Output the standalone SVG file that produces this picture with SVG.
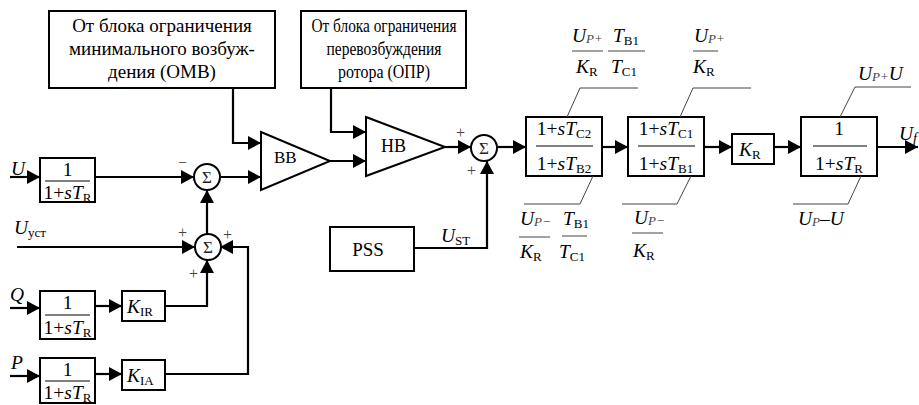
<svg xmlns="http://www.w3.org/2000/svg" width="919" height="405" viewBox="0 0 919 405">
<style>
.box{fill:#fff;stroke:#000;stroke-width:2}
.ln{fill:none;stroke:#000;stroke-width:2.2}
.bar{stroke:#000;stroke-width:1.2}
.gbar{stroke:#444;stroke-width:1}
.lead{fill:none;stroke:#444;stroke-width:1}
.sum{fill:#fff;stroke:#000;stroke-width:2}
text{font-family:'Liberation Serif','Times New Roman',Tinos,'DejaVu Serif',serif}
.t{font-size:18px;fill:#000}
.m{font-size:19.5px;fill:#000}
.i{font-style:italic}
.sub{font-size:13px;font-style:normal}
.subf{font-size:14px;font-style:italic}
.subi{font-size:13px;font-style:italic;fill:#444}
.sg{font-size:16px;fill:#444}
.sig{font-size:17px;fill:#222}
.s{font-size:19px;fill:#000;text-anchor:middle}
.s2{font-size:18.5px;fill:#000;text-anchor:middle}
.mid{text-anchor:middle}
</style>
<defs>
<marker id="ar" markerUnits="userSpaceOnUse" markerWidth="14" markerHeight="14" refX="13" refY="7" orient="auto">
<path d="M0,0 L13,7 L0,14 z" fill="#000"/>
</marker>
</defs>

<g id="connectors">
<path class="ln" d="M10,177 H40" marker-end="url(#ar)"/>
<path class="ln" d="M95,177 H194" marker-end="url(#ar)"/>
<path class="ln" d="M220,177 H261" marker-end="url(#ar)"/>
<path class="ln" d="M233,88 V143 H261" marker-end="url(#ar)"/>
<path class="ln" d="M330,161 H366" marker-end="url(#ar)"/>
<path class="ln" d="M331,88 V132 H366" marker-end="url(#ar)"/>
<path class="ln" d="M445,147 H471" marker-end="url(#ar)"/>
<path class="ln" d="M414,248 H487 V161" marker-end="url(#ar)"/>
<path class="ln" d="M497,147 H526" marker-end="url(#ar)"/>
<path class="ln" d="M602,147 H628" marker-end="url(#ar)"/>
<path class="ln" d="M704,147 H732" marker-end="url(#ar)"/>
<path class="ln" d="M774,147 H801" marker-end="url(#ar)"/>
<path class="ln" d="M877,147 H918" marker-end="url(#ar)"/>
<path class="ln" d="M17,247 H195" marker-end="url(#ar)"/>
<path class="ln" d="M207,234 V190" marker-end="url(#ar)"/>
<path class="ln" d="M165,306 H207 V260" marker-end="url(#ar)"/>
<path class="ln" d="M165,374 H248 V247 H220" marker-end="url(#ar)"/>
<path class="ln" d="M10,308 H40" marker-end="url(#ar)"/>
<path class="ln" d="M95,306 H122" marker-end="url(#ar)"/>
<path class="ln" d="M10,376 H40" marker-end="url(#ar)"/>
<path class="ln" d="M95,374 H122" marker-end="url(#ar)"/>
</g>

<g id="omv">
<rect class="box" x="49" y="11" width="226" height="77"/>
<text class="s" x="162" y="32">От блока ограничения</text>
<text class="s" x="162" y="55">минимального возбуж-</text>
<text class="s" x="162" y="78">дения (ОМВ)</text>
</g>
<g id="opr">
<rect class="box" x="301" y="11" width="165" height="77"/>
<text class="s2" x="384" y="32" textLength="145" lengthAdjust="spacingAndGlyphs">От блока ограничения</text>
<text class="s2" x="384" y="55" textLength="115" lengthAdjust="spacingAndGlyphs">перевозбуждения</text>
<text class="s2" x="384" y="78" textLength="92" lengthAdjust="spacingAndGlyphs">ротора (ОПР)</text>
</g>

<g id="tf-u">
<rect class="box" x="40" y="158" width="55" height="44"/>
<text class="m mid" x="67.5" y="176">1</text>
<line class="bar" x1="45" y1="181" x2="90" y2="181"/>
<text class="m mid" x="67.5" y="199">1+<tspan class="i">sT</tspan><tspan class="sub" dy="3">R</tspan></text>
<text class="m i" x="11" y="175">U</text>
</g>

<g id="sum1">
<circle class="sum" cx="207" cy="177" r="13"/>
<text class="sig mid" x="207" y="183">Σ</text>
<text class="sg" x="178" y="168">−</text>
</g>

<g id="sum2">
<circle class="sum" cx="208" cy="247" r="13"/>
<text class="sig mid" x="208" y="253">Σ</text>
<text class="sg" x="178" y="238">+</text>
<text class="sg" x="223" y="240">+</text>
<text class="sg" x="189" y="279">+</text>
<text class="m" x="14" y="234"><tspan class="i">U</tspan><tspan class="sub" dy="3">уст</tspan></text>
</g>

<g id="bb">
<path class="box" d="M261,132 L330,161 L261,190 z"/>
<text class="t" x="274" y="163" style="font-size:17px">ВВ</text>
</g>
<g id="hb">
<path class="box" d="M366,117 L445,147 L366,176 z"/>
<text class="t" x="381" y="152">НВ</text>
</g>

<g id="sum3">
<circle class="sum" cx="484" cy="148" r="13"/>
<text class="sig mid" x="484" y="154">Σ</text>
<text class="sg" x="456" y="138">+</text>
<text class="sg" x="467" y="176">+</text>
</g>

<g id="pss">
<rect class="box" x="330" y="227" width="84" height="44"/>
<text class="s" x="368" y="256">PSS</text>
<text class="m" x="441" y="242"><tspan class="i">U</tspan><tspan class="sub" dy="3">ST</tspan></text>
</g>

<g id="leadlag1">
<rect class="box" x="526" y="117" width="76" height="59"/>
<text class="m mid" x="564" y="135">1+<tspan class="i">sT</tspan><tspan class="sub" dy="3">C2</tspan></text>
<line class="bar" x1="536" y1="146" x2="593" y2="146"/>
<text class="m mid" x="564" y="170">1+<tspan class="i">sT</tspan><tspan class="sub" dy="3">B2</tspan></text>
<path class="lead" d="M567,117 L580,88 H638"/>
<text class="m i" x="572" y="42">U<tspan class="subi" dy="1">P+</tspan></text>
<line class="gbar" x1="572" y1="51" x2="603" y2="51"/>
<text class="m i" x="576" y="73">K<tspan class="sub" dy="3">R</tspan></text>
<text class="m i" x="613" y="42">T<tspan class="sub" dy="3">B1</tspan></text>
<line class="gbar" x1="608" y1="51" x2="645" y2="51"/>
<text class="m i" x="611" y="73">T<tspan class="sub" dy="3">C1</tspan></text>
<path class="lead" d="M593,176 L580,204 H524"/>
<text class="m i" x="520" y="225">U<tspan class="subi" dy="1">P−</tspan></text>
<line class="gbar" x1="519" y1="237" x2="550" y2="237"/>
<text class="m i" x="520" y="258">K<tspan class="sub" dy="3">R</tspan></text>
<text class="m i" x="563" y="225">T<tspan class="sub" dy="3">B1</tspan></text>
<line class="gbar" x1="562" y1="236" x2="587" y2="236"/>
<text class="m i" x="559" y="258">T<tspan class="sub" dy="3">C1</tspan></text>
</g>

<g id="leadlag2">
<rect class="box" x="628" y="117" width="76" height="59"/>
<text class="m mid" x="666" y="135">1+<tspan class="i">sT</tspan><tspan class="sub" dy="3">C1</tspan></text>
<line class="bar" x1="638" y1="146" x2="695" y2="146"/>
<text class="m mid" x="666" y="170">1+<tspan class="i">sT</tspan><tspan class="sub" dy="3">B1</tspan></text>
<path class="lead" d="M680,117 L693,88 H751"/>
<text class="m i" x="694" y="42">U<tspan class="subi" dy="1">P+</tspan></text>
<line class="gbar" x1="693" y1="51" x2="718" y2="51"/>
<text class="m i" x="693" y="73">K<tspan class="sub" dy="3">R</tspan></text>
<path class="lead" d="M691,176 L677,204 H622"/>
<text class="m i" x="634" y="224">U<tspan class="subi" dy="1">P−</tspan></text>
<line class="gbar" x1="632" y1="233" x2="663" y2="233"/>
<text class="m i" x="633" y="257">K<tspan class="sub" dy="3">R</tspan></text>
</g>

<g id="kr">
<rect class="box" x="732" y="134" width="42" height="30"/>
<text class="m i" x="739" y="156">K<tspan class="sub" dy="3">R</tspan></text>
</g>

<g id="exciter">
<rect class="box" x="801" y="117" width="76" height="59"/>
<text class="m mid" x="839" y="135">1</text>
<line class="bar" x1="813" y1="146" x2="867" y2="146"/>
<text class="m mid" x="839" y="170">1+<tspan class="i">sT</tspan><tspan class="sub" dy="3">R</tspan></text>
<path class="lead" d="M840,117 L855,87 H911"/>
<text class="m i" x="858" y="80">U<tspan class="subi" dy="1">P+</tspan><tspan dy="-1">U</tspan></text>
<path class="lead" d="M861,176 L848,204 H793"/>
<text class="m i" x="798" y="225">U<tspan class="subi" dy="1">P</tspan><tspan dy="-1" style="font-style:normal">–</tspan>U</text>
<text class="m i" x="899" y="140">U<tspan class="subf" dy="3">f</tspan></text>
</g>

<g id="tf-q">
<rect class="box" x="40" y="291" width="55" height="48"/>
<text class="m mid" x="67.5" y="309">1</text>
<line class="bar" x1="45" y1="315" x2="90" y2="315"/>
<text class="m mid" x="67.5" y="334">1+<tspan class="i">sT</tspan><tspan class="sub" dy="3">R</tspan></text>
<text class="m i" x="10" y="301">Q</text>
</g>
<g id="kir">
<rect class="box" x="122" y="291" width="43" height="30"/>
<text class="m i" x="127" y="313">K<tspan class="sub" dy="3">IR</tspan></text>
</g>
<g id="tf-p">
<rect class="box" x="40" y="358" width="55" height="45"/>
<text class="m mid" x="67.5" y="376">1</text>
<line class="bar" x1="45" y1="381" x2="90" y2="381"/>
<text class="m mid" x="67.5" y="399">1+<tspan class="i">sT</tspan><tspan class="sub" dy="3">R</tspan></text>
<text class="m i" x="11" y="369">P</text>
</g>
<g id="kia">
<rect class="box" x="122" y="360" width="43" height="30"/>
<text class="m i" x="127" y="382">K<tspan class="sub" dy="3">IA</tspan></text>
</g>
</svg>
